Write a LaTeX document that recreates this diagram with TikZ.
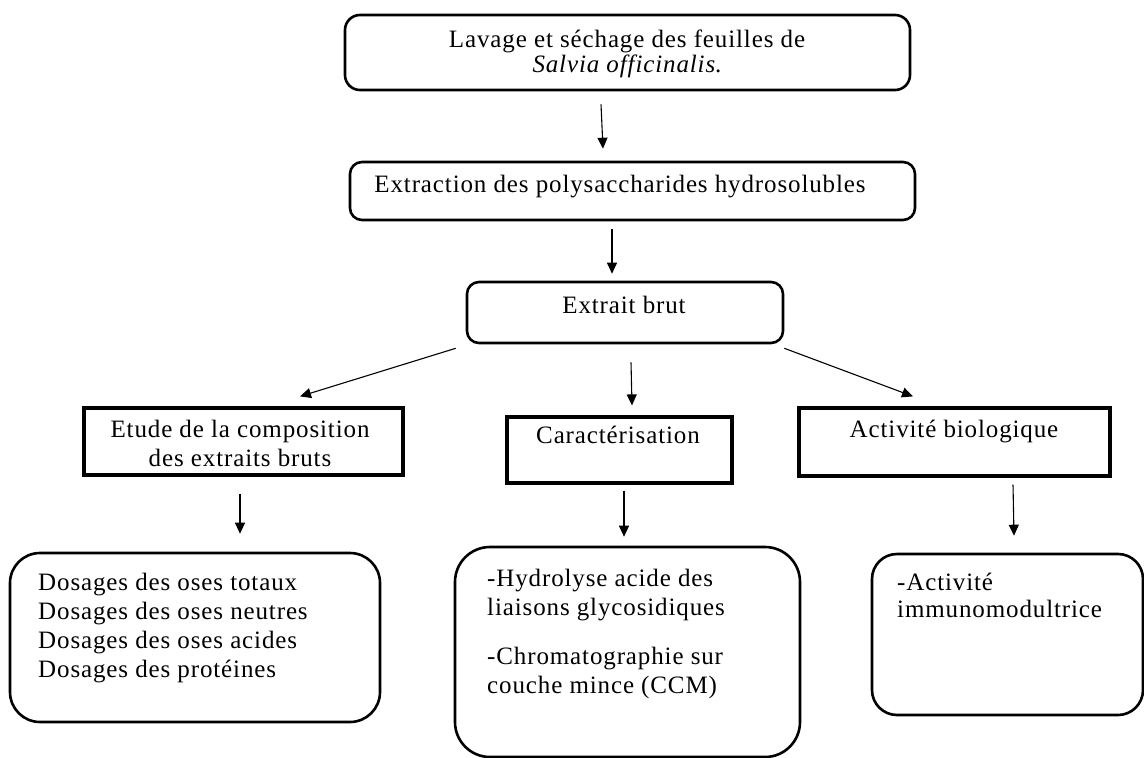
\documentclass[tikz,border=0pt]{standalone}
\usepackage{fontspec}
\setmainfont{Liberation Serif}[LetterSpace=3.5]
\usetikzlibrary{arrows.meta,calc}
\begin{document}
\begin{tikzpicture}[x=1pt,y=-1pt,
  txt/.style={inner sep=0pt, font=\fontsize{25}{29}\selectfont},
  rbox/.style={draw, line width=2.6pt, rounded corners=#1, inner sep=0pt},
  sbox/.style={draw, line width=3.2pt, inner sep=0pt},
  arr/.style={-{Triangle[width=10pt,length=11pt]}, line width=1.1pt}]
\useasboundingbox (0,0) rectangle (1144,758);
% boxes
\node[rbox=15pt, minimum width=565pt, minimum height=75pt] (lav) at (627.5,52.5) {};
\node[rbox=12pt, minimum width=565pt, minimum height=58pt] (ext) at (632.5,191) {};
\node[rbox=12pt, minimum width=316pt, minimum height=61pt] (brut) at (625,312.5) {};
\node[sbox, minimum width=319pt, minimum height=67pt] (etu) at (243.5,441.5) {};
\node[sbox, minimum width=225pt, minimum height=66pt] (car) at (619.5,450) {};
\node[sbox, minimum width=311pt, minimum height=68pt] (act) at (954.5,442) {};
\node[rbox=30pt, minimum width=370pt, minimum height=169pt] (bl) at (195,637.5) {};
\node[rbox=35pt, minimum width=345pt, minimum height=210pt] (bm) at (627.5,652) {};
\node[rbox=25pt, minimum width=271pt, minimum height=161pt] (br) at (1007.5,634.5) {};
% texts (base anchor of a multi-line node = baseline of its last line)
\node[txt, anchor=base, align=center] (lavT) at (627,72) {Lavage et séchage des feuilles de\\[-4pt]\textit{Salvia officinalis}.};
\node[txt, anchor=base] (extT) at (620,192) {Extraction des polysaccharides hydrosolubles};
\node[txt, anchor=base] (brutT) at (624,313) {Extrait brut};
\node[txt, anchor=base, align=center] (etuT) at (240,466) {Etude de la composition\\des extraits bruts};
\node[txt, anchor=base] (carT) at (618,443) {Caractérisation};
\node[txt, anchor=base] (actT) at (954,437) {Activité biologique};
\node[txt, anchor=base west, align=left] (blT) at (38,677) {Dosages des oses totaux\\Dosages des oses neutres\\Dosages des oses acides\\Dosages des protéines};
\node[txt, anchor=base west, align=left] (bmT) at (487,693) {-Hydrolyse acide des\\liaisons glycosidiques\\[20pt]-Chromatographie sur\\couche mince (CCM)};
\node[txt, anchor=base west, align=left] (brT) at (897,617) {-Activité\\[-2pt]immunomodultrice};
% arrows
\draw[arr] ($(lav.south)+(-26.5,13)$) -- ($(ext.north)+(-29.5,-12)$);
\draw[arr] ($(ext.south)+(-20.5,8)$) -- ($(brut.north)+(-13,-7)$);
\draw[arr] ($(brut.south west)+(-10,4)$) -- ($(etu.north)+(56.5,-10)$);
\draw[arr] ($(brut.south)+(6,18)$) -- ($(car.north)+(12.5,-10)$);
\draw[arr] ($(brut.south east)+(0,4)$) -- ($(act.north)+(-41.5,-10)$);
\draw[arr] ($(etu.south)+(-3.5,17)$) -- ($(bl.north)+(45,-18)$);
\draw[arr] ($(car.south)+(4.5,6)$) -- ($(bm.north)+(-3.5,-9)$);
\draw[arr] ($(act.south)+(58.5,7)$) -- ($(br.north)+(6.5,-17)$);
\end{tikzpicture}
\end{document}
